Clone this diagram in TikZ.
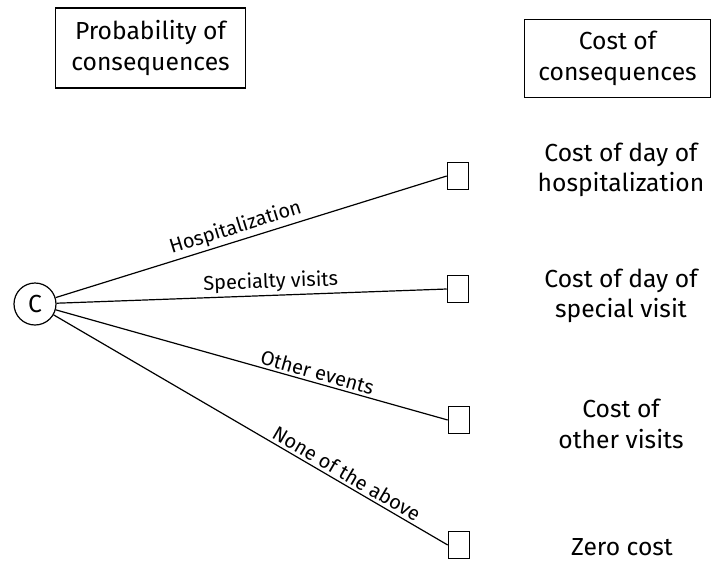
\documentclass[tikz,border=0pt]{standalone}
\usepackage{fontspec}
\setmainfont{Fira Sans}
\usepackage{tikz}

\begin{document}
\begin{tikzpicture}[x=0.75pt,y=-0.75pt,every node/.style={font=\fontsize{18.5}{23}\selectfont},
    headbox/.style={draw,line width=0.9pt,align=center,inner sep=0pt},
    leaf/.style={draw,line width=0.9pt,minimum width=16pt,minimum height=20pt,inner sep=0pt},
    branch/.style={font=\fontsize{15}{18}\selectfont,sloped,above,inner sep=2pt}]
                \useasboundingbox (0,0) rectangle (711,562);
                \node[headbox,minimum width=143pt,minimum height=60pt] (prob) at (150.5,48) {Probability of\\consequences};
                \node[headbox,minimum width=139pt,minimum height=59pt] (cost) at (617.5,58.5) {Cost of\\consequences};
                \node[draw,circle,line width=0.9pt,minimum size=31.5pt,inner sep=0pt] (c) at (35,304) {C};
                \node[leaf] (b1) at (458,176) {};
                \node[leaf] (b2) at (458,289) {};
                \node[leaf] (b3) at (459,420) {};
                \node[leaf] (b4) at (459,545) {};
                \draw[line width=0.9pt] (c) -- node[branch,pos=0.47] {Hospitalization} (b1.west);
                \draw[line width=0.9pt] (c) -- node[branch,pos=0.55] {Specialty visits} (b2.west);
                \draw[line width=0.9pt] (c) -- node[branch,pos=0.66] {Other events} (b3.west);
                \draw[line width=0.9pt] (c) -- node[branch,pos=0.73] {None of the above} (b4.west);
                \node[align=center] (t1) at (621,170) {Cost of day of\\hospitalization};
                \node[align=center] (t2) at (621,296) {Cost of day of\\special visit};
                \node[align=center] (t3) at (621,424) {Cost of\\other visits};
                \node (t4) at (622,547) {Zero cost};
            \end{tikzpicture}
\end{document}
